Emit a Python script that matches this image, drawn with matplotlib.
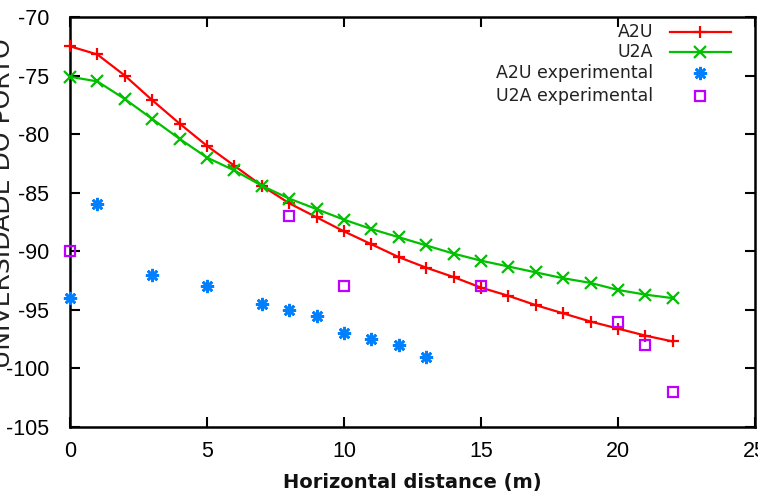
import matplotlib
matplotlib.use("Agg")
import matplotlib.pyplot as plt
from matplotlib.lines import Line2D

x_model = list(range(0, 23))
a2u = [-72.5, -73.2, -75.0, -77.1, -79.1, -81.0, -82.7, -84.4, -85.9, -87.1, -88.3,
       -89.4, -90.5, -91.4, -92.2, -93.1, -93.8, -94.6, -95.3, -96.0, -96.6, -97.2, -97.7]
u2a = [-75.1, -75.5, -77.0, -78.7, -80.4, -82.0, -83.1, -84.4, -85.5, -86.4, -87.3,
       -88.1, -88.8, -89.5, -90.2, -90.8, -91.3, -91.8, -92.3, -92.7, -93.3, -93.7, -94.0]

x_a2u_exp = [0, 1, 3, 5, 7, 8, 9, 10, 11, 12, 13]
y_a2u_exp = [-94, -86, -92, -93, -94.5, -95, -95.5, -97, -97.5, -98, -99]

x_u2a_exp = [0, 8, 10, 15, 20, 21, 22]
y_u2a_exp = [-90, -87, -93, -93, -96, -98, -102]

xticks = [0, 5, 10, 15, 20, 25]
yticks = [-70, -75, -80, -85, -90, -95, -100, -105]

RED = "#ff0000"
GREEN = "#00c000"
BLUE = "#0080ff"
MAGENTA = "#c000ff"

W, H = 758, 491
fig = plt.figure(figsize=(W / 100, H / 100), dpi=100)
ax = fig.add_axes([70 / W, 1 - 427 / H, 685 / W, 410 / H])

STAR = (8, 2, 0)
ax.plot(x_model, a2u, color=RED, lw=1.6, marker="+", ms=9, mew=1.6, clip_on=False, zorder=3)
ax.plot(x_model, u2a, color=GREEN, lw=1.6, marker="x", ms=8, mew=1.6, clip_on=False, zorder=3)
ax.plot(x_a2u_exp, y_a2u_exp, ls="none", color=BLUE, marker=STAR, ms=9.5, mew=1.9,
        clip_on=False, zorder=4)
ax.plot(x_u2a_exp, y_u2a_exp, ls="none", color=MAGENTA, marker="s", ms=6.5, mfc="none",
        mew=1.6, clip_on=False, zorder=4)

ax.set_xlim(0, 25)
ax.set_ylim(-105, -70)
ax.set_xticks(xticks)
ax.set_yticks(yticks)
ax.set_xticklabels([str(v) for v in xticks], fontfamily="Liberation Sans", fontsize=15.5)
ax.set_yticklabels([str(v) for v in yticks], fontfamily="Liberation Sans", fontsize=15.5)
ax.tick_params(direction="in", length=7, width=1.5, top=True, right=True, color="black")
ax.tick_params(axis="y", pad=15)
ax.tick_params(axis="x", pad=10)
for s in ax.spines.values():
    s.set_linewidth(1.8)

ax.set_xlabel("Horizontal distance (m)", fontfamily="DejaVu Sans", fontweight="bold",
              fontsize=14, labelpad=8, color="#111111")

# legend (gnuplot style: label right-aligned, sample to the right)
labels = ["A2U", "U2A", "A2U experimental", "U2A experimental"]
rows_px = [31.7, 52.3, 73.3, 95.7]
trans = ax.transAxes
def ax_x(px):
    return (px - 70) / 685
def ax_y(py):
    return (427 - py) / 410
styles = [
    dict(color=RED, lw=1.6, marker="+", ms=9, mew=1.6, markevery=[1]),
    dict(color=GREEN, lw=1.6, marker="x", ms=8, mew=1.6, markevery=[1]),
    dict(color=BLUE, ls="none", marker=STAR, ms=9.5, mew=1.9),
    dict(color=MAGENTA, ls="none", marker="s", ms=6.5, mfc="none", mew=1.6),
]
for lab, ry, st in zip(labels, rows_px, styles):
    ax.text(ax_x(653), ax_y(ry), lab, transform=trans, ha="right", va="center",
            fontfamily="DejaVu Sans", fontsize=12.5, color="#222222")
    if st.get("ls") == "none":
        ln = Line2D([ax_x(700)], [ax_y(ry)], transform=trans, **st)
    else:
        ln = Line2D([ax_x(670), ax_x(700), ax_x(731)], [ax_y(ry)] * 3, transform=trans, **st)
    ax.add_line(ln)

# watermark on the left edge (cut off in the reference as well)
fig.text(3 / W, 1 - 203 / H, "UNIVERSIDADE DO PORTO", rotation=90, ha="center", va="center",
         fontfamily="DejaVu Sans", fontsize=18, color="#222222")

fig.savefig("out.png", dpi=100)
